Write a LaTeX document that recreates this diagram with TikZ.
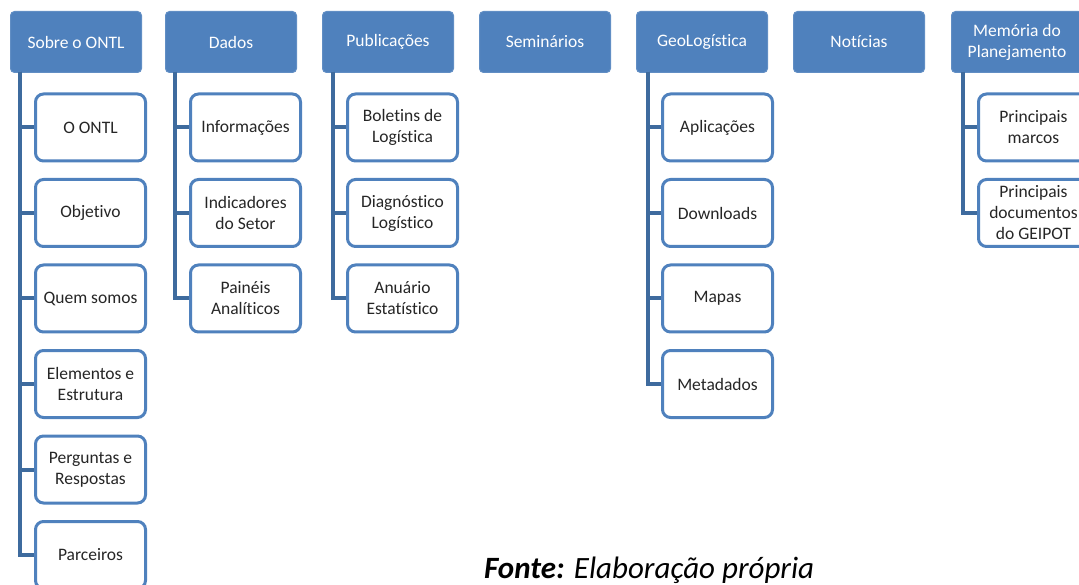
\documentclass[tikz,border=0pt]{standalone}
\usepackage{fontspec}
\setmainfont{Carlito}[Ligatures=CommonOff]
\definecolor{hdr}{HTML}{4F81BD}
\definecolor{conn}{HTML}{3E6B9E}
\begin{document}
\begin{tikzpicture}[x=1pt,y=-1pt,
  hbox/.style={draw=hdr!90!white, line width=1pt, fill=hdr, rounded corners=4pt, minimum width=131pt, minimum height=61pt, inner sep=2pt, text=white, font=\fontsize{17.5}{21}\selectfont, align=center, anchor=north west},
  cbox/.style={draw=hdr, line width=3pt, fill=white, rounded corners=8pt, minimum width=110pt, minimum height=67pt, inner sep=2pt, text=black!85, font=\fontsize{17.5}{21}\selectfont, align=center, anchor=west},
  link/.style={draw=conn, line width=4pt}]
\useasboundingbox (0,0) rectangle (1079,585);
\clip (0,0) rectangle (1079,585);
% headers
\node[hbox] (h1) at (10,11) {Sobre o ONTL};
\node[hbox] (h2) at (165,11) {Dados};
\node[hbox] (h3) at (322,11) {Publicações};
\node[hbox] (h4) at (479,11) {Seminários};
\node[hbox] (h5) at (636,11) {GeoLogística};
\node[hbox] (h6) at (793,11) {Notícias};
\node[hbox] (h7) at (951,11) {Memória do\\Planejamento};
% trunk coordinates
\coordinate (t1) at (20,72);
\coordinate (t2) at (175,72);
\coordinate (t3) at (333,72);
\coordinate (t5) at (648,72);
\coordinate (t7) at (963,72);
% Sobre o ONTL children
\node[cbox] (a1) at (34,127.5) {O ONTL};
\node[cbox] (a2) at (34,213) {Objetivo};
\node[cbox] (a3) at (34,298.5) {Quem somos};
\node[cbox] (a4) at (34,384) {Elementos e\\Estrutura};
\node[cbox] (a5) at (34,469.5) {Perguntas e\\Respostas};
\node[cbox] (a6) at (34,555) {Parceiros};
% Dados
\node[cbox] (b1) at (189,127.5) {Informações};
\node[cbox] (b2) at (189,213) {Indicadores\\do Setor};
\node[cbox] (b3) at (189,298.5) {Painéis\\Analíticos};
% Publicacoes
\node[cbox] (c1) at (346,127.5) {Boletins de\\Logística};
\node[cbox] (c2) at (346,213) {Diagnóstico\\Logístico};
\node[cbox] (c3) at (346,298.5) {Anuário\\Estatístico};
% GeoLogistica
\node[cbox] (d1) at (661,127.5) {Aplicações};
\node[cbox] (d2) at (661,213) {Downloads};
\node[cbox] (d3) at (661,298.5) {Mapas};
\node[cbox] (d4) at (661,384) {Metadados};
% Memoria
\node[cbox] (e1) at (977,127.5) {Principais\\marcos};
\node[cbox] (e2) at (977,213) {Principais\\documentos\\do GEIPOT};
% connectors
\foreach \c in {a1,a2,a3,a4,a5,a6} \draw[link] (t1) |- (\c.west);
\foreach \c in {b1,b2,b3} \draw[link] (t2) |- (\c.west);
\foreach \c in {c1,c2,c3} \draw[link] (t3) |- (\c.west);
\foreach \c in {d1,d2,d3,d4} \draw[link] (t5) |- (\c.west);
\foreach \c in {e1,e2} \draw[link] (t7) |- (\c.west);
% caption
\node[anchor=base west, inner sep=0pt, font=\fontsize{31}{36}\selectfont] (cap) at (484,578) {\textbf{\textit{Fonte:}} \textit{Elaboração própria}};
\end{tikzpicture}
\end{document}
